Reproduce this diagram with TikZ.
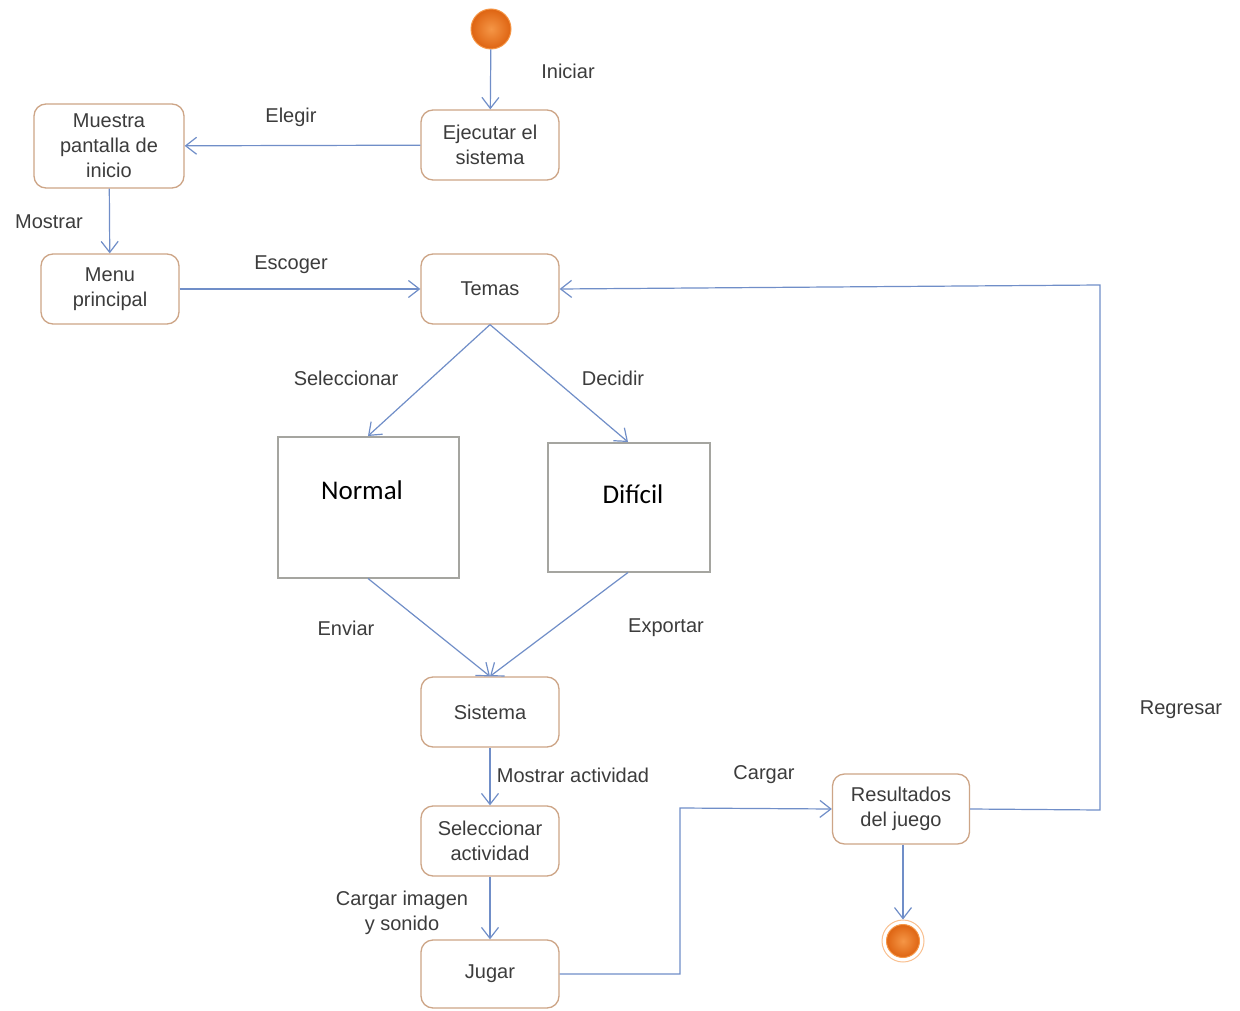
\documentclass[tikz,border=0pt]{standalone}
\usepackage{fontspec}
\setmainfont{Liberation Sans}
\newfontfamily\calibri{Carlito}
\usetikzlibrary{arrows.meta}
\definecolor{flow}{RGB}{112,142,200}
\definecolor{boxedge}{RGB}{205,165,135}
\definecolor{txt}{RGB}{60,60,60}
\definecolor{dotfill}{RGB}{222,100,18}
\definecolor{dotlight}{RGB}{245,150,70}
\definecolor{grayedge}{RGB}{165,165,160}
\begin{document}
\begin{tikzpicture}[x=1pt,y=-1pt,
  act/.style={draw=boxedge,line width=1.3pt,rounded corners=12pt,fill=white,
    minimum width=138pt,minimum height=70pt,align=center,text=txt,
    font=\fontsize{20}{25}\selectfont},
  level/.style={draw=grayedge,line width=1.5pt,fill=white,anchor=north west},
  lbl/.style={text=txt,font=\fontsize{20}{25}\selectfont,align=center},
  flowline/.style={draw=flow,line width=1.2pt},
  arr/.style={flowline,-{Straight Barb[length=11pt,width=17pt,line width=1.2pt]}},
  dot/.style={circle,inner sep=0pt,minimum size=40pt,draw=dotlight,line width=1pt,
    inner color=dotlight,outer color=dotfill}
]
\useasboundingbox (0,0) rectangle (1240,1011);
\fill[white] (0,0) rectangle (1240,1011);

% activities
\node[dot] (start) at (491,29) {};
\node[act] (ejec) at (490,145) {Ejecutar el\\sistema};
\node[act,minimum width=150pt,minimum height=84pt] (muestra) at (109,146) {Muestra\\pantalla de\\inicio};
\node[act] (menu) at (110,289) {Menu\\principal};
\node[act] (temas) at (490,289) {Temas};
\node[level,minimum width=181pt,minimum height=141pt] (normal) at (277,436) {};
\node[font=\calibri\fontsize{27}{32}\selectfont] at (362,490) {Normal};
\node[level,minimum width=162pt,minimum height=129pt] (dificil) at (547,442) {};
\node[font=\calibri\fontsize{27}{32}\selectfont] at (633,494) {Difícil};
\node[act] (sistema) at (490,712) {Sistema};
\node[act] (selact) at (490,841) {Seleccionar\\actividad};
\node[act,minimum height=68pt] (jugar) at (490,974) {Jugar};
\node[act,minimum width=137pt] (result) at (901,809) {Resultados\\del juego};
\node[circle,inner sep=0pt,minimum size=42pt,draw=dotlight!60,line width=1pt,fill=white] (endring) at (903,941) {};
\node[dot,minimum size=33pt] (end) at (903,941) {};

% transitions
\draw[arr] (start) -- (ejec);
\draw[arr] (ejec) -- (muestra);
\draw[arr] (muestra) -- (menu);
\draw[arr] (menu) -- (temas);
\draw[arr] (temas.south) -- (normal.north -| 368,0);
\draw[arr] (temas.south) -- (dificil.north -| 628,0);
\draw[arr] (normal.south -| 368,0) -- (sistema.north);
\draw[arr] (dificil.south -| 628,0) -- (sistema.north);
\draw[arr] (sistema) -- (selact);
\draw[arr] (selact) -- (jugar);
\draw[arr] (jugar.east) -- (680,974) -- (680,808) -- (result.west);
\coordinate (back) at (1100,810);
\draw[arr] (result.east) -- (back) -- (1100,285) -- (temas.east);
\draw[arr] (result.south -| end) -- (endring.north);

% labels
\node[lbl] at (568,71) {Iniciar};
\node[lbl] at (291,117) {Elegir};
\node[lbl] at (49,222) {Mostrar};
\node[lbl] at (291,265) {Escoger};
\node[lbl] at (346,378) {Seleccionar};
\node[lbl] at (613,378) {Decidir};
\node[lbl] at (346,628) {Enviar};
\node[lbl] at (666,628) {Exportar};
\node[lbl] at (573,775) {Mostrar actividad};
\node[lbl,font=\fontsize{20}{25}\selectfont] at (402,913) {Cargar imagen\\y sonido};
\node[lbl] at (764,775) {Cargar};
\node[lbl] at (1181,710) {Regresar};
\end{tikzpicture}
\end{document}
